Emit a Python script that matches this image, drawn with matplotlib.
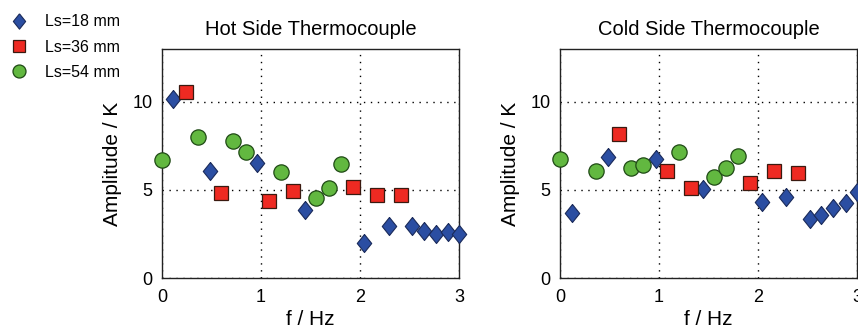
import numpy as np
import matplotlib
matplotlib.use("Agg")
import matplotlib.pyplot as plt

plt.rcParams['font.family'] = ['Liberation Sans', 'DejaVu Sans']

# Hot side thermocouple
hot_f18 = [0.11, 0.48, 0.96, 1.44, 2.04, 2.29, 2.53, 2.65, 2.77, 2.89, 3.0]
hot_a18 = [10.15, 6.08, 6.55, 3.86, 1.97, 2.95, 2.95, 2.69, 2.5, 2.6, 2.5]
hot_f36 = [0.24, 0.60, 1.08, 1.32, 1.93, 2.17, 2.41]
hot_a36 = [10.55, 4.81, 4.36, 4.96, 5.19, 4.73, 4.70]
hot_f54 = [0.0, 0.36, 0.72, 0.85, 1.20, 1.56, 1.69, 1.81]
hot_a54 = [6.7, 8.03, 7.78, 7.18, 6.04, 4.53, 5.11, 6.48]

# Cold side thermocouple
cold_f18 = [0.12, 0.48, 0.97, 1.44, 2.04, 2.28, 2.52, 2.64, 2.76, 2.885, 3.0]
cold_a18 = [3.67, 6.86, 6.74, 5.06, 4.34, 4.62, 3.33, 3.58, 3.96, 4.28, 4.9]
cold_f36 = [0.60, 1.08, 1.32, 1.92, 2.16, 2.40]
cold_a36 = [8.18, 6.06, 5.09, 5.4, 6.1, 5.98]
cold_f54 = [0.0, 0.36, 0.72, 0.84, 1.20, 1.56, 1.68, 1.80]
cold_a54 = [6.76, 6.08, 6.23, 6.4, 7.14, 5.72, 6.23, 6.9]

labels = ['Ls=18 mm', 'Ls=36 mm', 'Ls=54 mm']
titles = ['Hot Side Thermocouple', 'Cold Side Thermocouple']
xticks = [0, 1, 2, 3]
yticks = [0, 5, 10]

# tall diamond like the MATLAB one
diamond = [(0, 1), (0.8, 0), (0, -1), (-0.8, 0), (0, 1)]

fig = plt.figure(figsize=(8.58, 3.29), dpi=100)
ax1 = fig.add_axes([0.1888, 0.155, 0.3462, 0.696])
ax2 = fig.add_axes([0.6527, 0.155, 0.3462, 0.696])

panels = [
    (ax1, [(hot_f18, hot_a18), (hot_f36, hot_a36), (hot_f54, hot_a54)]),
    (ax2, [(cold_f18, cold_a18), (cold_f36, cold_a36), (cold_f54, cold_a54)]),
]

for i, (ax, series) in enumerate(panels):
    (f18, a18), (f36, a36), (f54, a54) = series
    ax.plot(f18, a18, linestyle='none', marker=diamond, markersize=13,
            markerfacecolor='#2b4ea2', markeredgecolor='#1a2a5a', markeredgewidth=0.8,
            label=labels[0], clip_on=False, zorder=3)
    ax.plot(f36, a36, linestyle='none', marker='s', markersize=9.5,
            markerfacecolor='#ee2a22', markeredgecolor='#3a1a10', markeredgewidth=0.9,
            label=labels[1], clip_on=False, zorder=3)
    ax.plot(f54, a54, linestyle='none', marker='o', markersize=11,
            markerfacecolor='#62b840', markeredgecolor='#1f4a15', markeredgewidth=0.9,
            label=labels[2], clip_on=False, zorder=3)

    ax.set_xlim(0, 3)
    ax.set_ylim(0, 13)
    ax.set_xticks(xticks)
    ax.set_yticks(yticks)
    ax.tick_params(length=0, labelsize=13)
    ax.tick_params(axis='y', pad=7)
    ax.tick_params(axis='x', pad=8)
    ax.grid(True, color='black', linestyle=(0, (1, 4)), linewidth=1.0)
    for sp in ax.spines.values():
        sp.set_color('#222222')
        sp.set_linewidth(1.0)
    ax.set_title(titles[i], fontsize=14.5, pad=10)
    ax.set_xlabel('f / Hz', fontsize=15, labelpad=3)
    ax.set_ylabel('Amplitude / K', fontsize=15, labelpad=7)

handles, _ = ax1.get_legend_handles_labels()
fig.legend(handles, labels, loc='upper left', bbox_to_anchor=(0.0, 1.0 - 8 / 329),
           frameon=False, fontsize=11.5, handletextpad=0.8, labelspacing=0.64,
           handlelength=1.6, borderaxespad=0.0, borderpad=0.4, markerscale=0.85)

fig.savefig('out.png', dpi=100, facecolor='white')
